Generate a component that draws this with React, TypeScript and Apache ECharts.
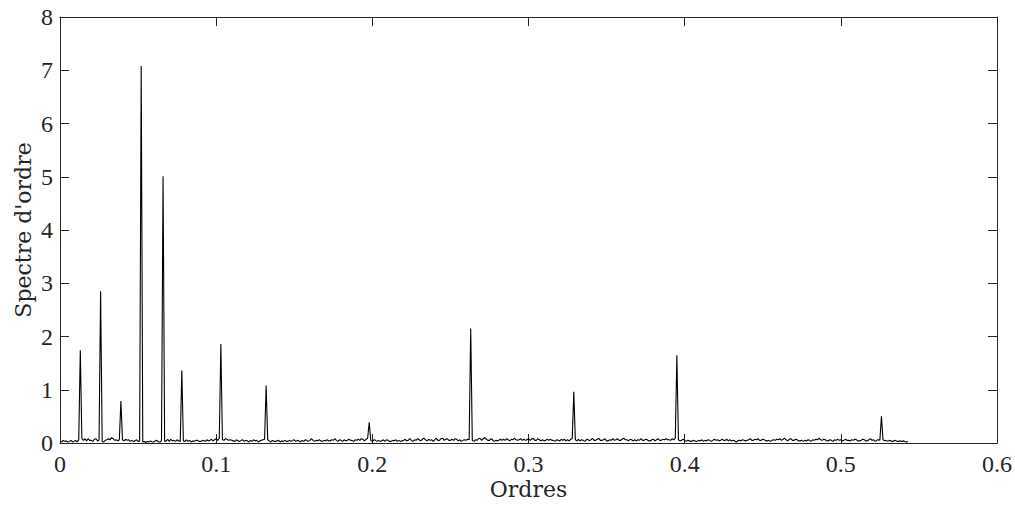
import React, { useEffect, useRef } from "react";
import * as echarts from "echarts";

// Order axis sampling step (orders per sample)
const orderStep = 0.001;

// Order spectrum samples (order 0.000 … 0.543)
const spectrum: number[] = [
  0.04, 0.02, 0.05, 0.03, 0.04, 0.02, 0.03, 0.05, 0.02, 0.03, 0.05, 0.02, 0.06, 1.74, 0.08, 0.05, 0.08, 0.04, 0.08, 0.05,
  0.05, 0.03, 0.07, 0.08, 0.04, 0.05, 2.85, 0.03, 0.02, 0.05, 0.06, 0.08, 0.06, 0.10, 0.08, 0.05, 0.06, 0.04, 0.06, 0.79,
  0.06, 0.04, 0.07, 0.05, 0.06, 0.03, 0.05, 0.03, 0.04, 0.06, 0.03, 0.04, 7.08, 0.02, 0.03, 0.01, 0.03, 0.02, 0.04, 0.02,
  0.02, 0.04, 0.05, 0.02, 0.02, 0.04, 5.01, 0.03, 0.04, 0.07, 0.03, 0.07, 0.04, 0.05, 0.03, 0.06, 0.04, 0.03, 1.36, 0.04,
  0.03, 0.06, 0.03, 0.05, 0.02, 0.04, 0.03, 0.05, 0.05, 0.03, 0.03, 0.04, 0.05, 0.03, 0.06, 0.04, 0.05, 0.07, 0.04, 0.06,
  0.08, 0.05, 0.09, 1.86, 0.06, 0.05, 0.08, 0.07, 0.05, 0.06, 0.05, 0.04, 0.03, 0.06, 0.04, 0.03, 0.05, 0.06, 0.03, 0.05,
  0.04, 0.02, 0.05, 0.03, 0.06, 0.04, 0.05, 0.02, 0.04, 0.05, 0.06, 0.07, 1.08, 0.06, 0.04, 0.02, 0.05, 0.03, 0.03, 0.04,
  0.05, 0.02, 0.04, 0.03, 0.05, 0.03, 0.03, 0.05, 0.03, 0.05, 0.06, 0.03, 0.05, 0.04, 0.02, 0.05, 0.03, 0.06, 0.05, 0.03,
  0.05, 0.08, 0.05, 0.03, 0.05, 0.04, 0.06, 0.04, 0.03, 0.05, 0.04, 0.06, 0.04, 0.04, 0.06, 0.05, 0.08, 0.05, 0.03, 0.06,
  0.05, 0.03, 0.06, 0.04, 0.05, 0.07, 0.05, 0.05, 0.03, 0.06, 0.05, 0.07, 0.05, 0.08, 0.07, 0.04, 0.07, 0.09, 0.39, 0.05,
  0.03, 0.06, 0.05, 0.03, 0.05, 0.03, 0.04, 0.06, 0.03, 0.06, 0.05, 0.03, 0.03, 0.05, 0.04, 0.06, 0.03, 0.05, 0.03, 0.04,
  0.05, 0.07, 0.04, 0.05, 0.08, 0.05, 0.03, 0.06, 0.05, 0.08, 0.06, 0.04, 0.07, 0.09, 0.06, 0.04, 0.07, 0.05, 0.06, 0.03,
  0.06, 0.09, 0.05, 0.05, 0.08, 0.09, 0.05, 0.07, 0.08, 0.05, 0.05, 0.07, 0.05, 0.08, 0.07, 0.04, 0.06, 0.03, 0.05, 0.06,
  0.05, 0.07, 0.06, 2.15, 0.05, 0.03, 0.06, 0.05, 0.08, 0.09, 0.05, 0.08, 0.10, 0.07, 0.05, 0.05, 0.08, 0.06, 0.03, 0.05,
  0.04, 0.05, 0.07, 0.05, 0.07, 0.05, 0.08, 0.06, 0.04, 0.07, 0.06, 0.09, 0.06, 0.05, 0.06, 0.08, 0.05, 0.07, 0.05, 0.06,
  0.08, 0.05, 0.07, 0.09, 0.05, 0.05, 0.08, 0.06, 0.04, 0.06, 0.04, 0.05, 0.07, 0.05, 0.07, 0.05, 0.05, 0.03, 0.06, 0.05,
  0.04, 0.07, 0.05, 0.07, 0.04, 0.06, 0.04, 0.07, 0.08, 0.96, 0.06, 0.04, 0.07, 0.04, 0.06, 0.05, 0.03, 0.06, 0.07, 0.04,
  0.06, 0.09, 0.05, 0.05, 0.07, 0.09, 0.05, 0.05, 0.06, 0.08, 0.04, 0.04, 0.06, 0.05, 0.08, 0.05, 0.06, 0.08, 0.05, 0.05,
  0.07, 0.09, 0.06, 0.06, 0.04, 0.07, 0.06, 0.04, 0.06, 0.04, 0.06, 0.05, 0.08, 0.05, 0.05, 0.07, 0.06, 0.04, 0.04, 0.06,
  0.07, 0.04, 0.06, 0.08, 0.05, 0.05, 0.07, 0.06, 0.08, 0.06, 0.06, 0.05, 0.08, 0.06, 0.09, 1.65, 0.06, 0.04, 0.05, 0.07,
  0.05, 0.03, 0.05, 0.04, 0.03, 0.04, 0.05, 0.03, 0.03, 0.05, 0.04, 0.06, 0.03, 0.05, 0.04, 0.06, 0.05, 0.03, 0.05, 0.07,
  0.05, 0.06, 0.04, 0.05, 0.07, 0.05, 0.05, 0.07, 0.04, 0.06, 0.04, 0.05, 0.04, 0.02, 0.04, 0.05, 0.04, 0.06, 0.05, 0.04,
  0.05, 0.06, 0.08, 0.05, 0.05, 0.07, 0.06, 0.08, 0.05, 0.05, 0.07, 0.06, 0.04, 0.04, 0.05, 0.03, 0.05, 0.06, 0.05, 0.07,
  0.06, 0.08, 0.05, 0.07, 0.09, 0.06, 0.04, 0.07, 0.08, 0.05, 0.05, 0.07, 0.06, 0.04, 0.04, 0.05, 0.03, 0.05, 0.04, 0.06,
  0.05, 0.03, 0.06, 0.05, 0.07, 0.06, 0.09, 0.06, 0.05, 0.07, 0.06, 0.04, 0.04, 0.06, 0.05, 0.03, 0.06, 0.05, 0.07, 0.05,
  0.06, 0.04, 0.05, 0.07, 0.05, 0.05, 0.04, 0.06, 0.05, 0.07, 0.06, 0.04, 0.04, 0.05, 0.07, 0.06, 0.04, 0.04, 0.06, 0.08,
  0.05, 0.06, 0.03, 0.05, 0.06, 0.05, 0.50, 0.06, 0.04, 0.05, 0.03, 0.05, 0.04, 0.03, 0.04, 0.05, 0.03, 0.03, 0.04, 0.03,
  0.04, 0.03, 0.02, 0.03,
];

const xMin = 0;
const xMax = 0.6;
const xInterval = 0.1;
const yMin = 0;
const yMax = 8;
const yInterval = 1;

const xName = "Ordres";
const yName = "Spectre d'ordre";

const axisColor = "#262626";
const tickFont = "'Liberation Serif', serif";
const nameFont = "'DejaVu Serif', serif";

export default function App() {
  const ref = useRef<HTMLDivElement>(null);

  useEffect(() => {
    if (!ref.current) return;
    const chart = echarts.init(ref.current, null, { renderer: "svg" });
    const data = spectrum.map((v, i) => [+(i * orderStep).toFixed(3), v]);

    const lineStyle = { color: axisColor, width: 1 };
    const fmt = (v: number) => String(+v.toFixed(1));

    const xBase = {
      type: "value" as const,
      min: xMin,
      max: xMax,
      interval: xInterval,
      splitLine: { show: false },
      axisLine: { show: true, onZero: false, lineStyle },
      axisTick: { show: true, inside: true, length: 9, lineStyle },
    };
    const yBase = {
      type: "value" as const,
      min: yMin,
      max: yMax,
      interval: yInterval,
      splitLine: { show: false },
      axisLine: { show: true, onZero: false, lineStyle },
      axisTick: { show: true, inside: true, length: 9, lineStyle },
    };

    chart.setOption({
      animation: false,
      backgroundColor: "#ffffff",
      grid: { left: 60, right: 17, top: 17, bottom: 66, containLabel: false },
      xAxis: [
        {
          ...xBase,
          position: "bottom",
          axisLabel: {
            margin: 10,
            color: axisColor,
            fontFamily: tickFont,
            fontSize: 24,
            lineHeight: 22,
            formatter: fmt,
          },
          name: xName,
          nameLocation: "middle",
          nameGap: 35,
          nameMoveOverlap: false,
          nameTextStyle: { color: axisColor, fontFamily: nameFont, fontSize: 22, lineHeight: 22 },
        },
        { ...xBase, position: "top", axisLabel: { show: false } },
      ],
      yAxis: [
        {
          ...yBase,
          position: "left",
          axisLabel: {
            margin: 7,
            color: axisColor,
            fontFamily: tickFont,
            fontSize: 24,
            formatter: (v: number) => String(v),
          },
          name: yName,
          nameLocation: "middle",
          nameGap: 26,
          nameMoveOverlap: false,
          nameTextStyle: { color: axisColor, fontFamily: nameFont, fontSize: 22 },
        },
        { ...yBase, position: "right", axisLabel: { show: false } },
      ],
      series: [
        {
          type: "line",
          xAxisIndex: 0,
          yAxisIndex: 0,
          data,
          showSymbol: false,
          symbol: "none",
          lineStyle: { color: "#000000", width: 1.1 },
        },
      ],
    });

    return () => chart.dispose();
  }, []);

  return (
    <div
      ref={ref}
      style={{ position: "fixed", left: 0, top: 0, width: 1015, height: 509 }}
    />
  );
}
